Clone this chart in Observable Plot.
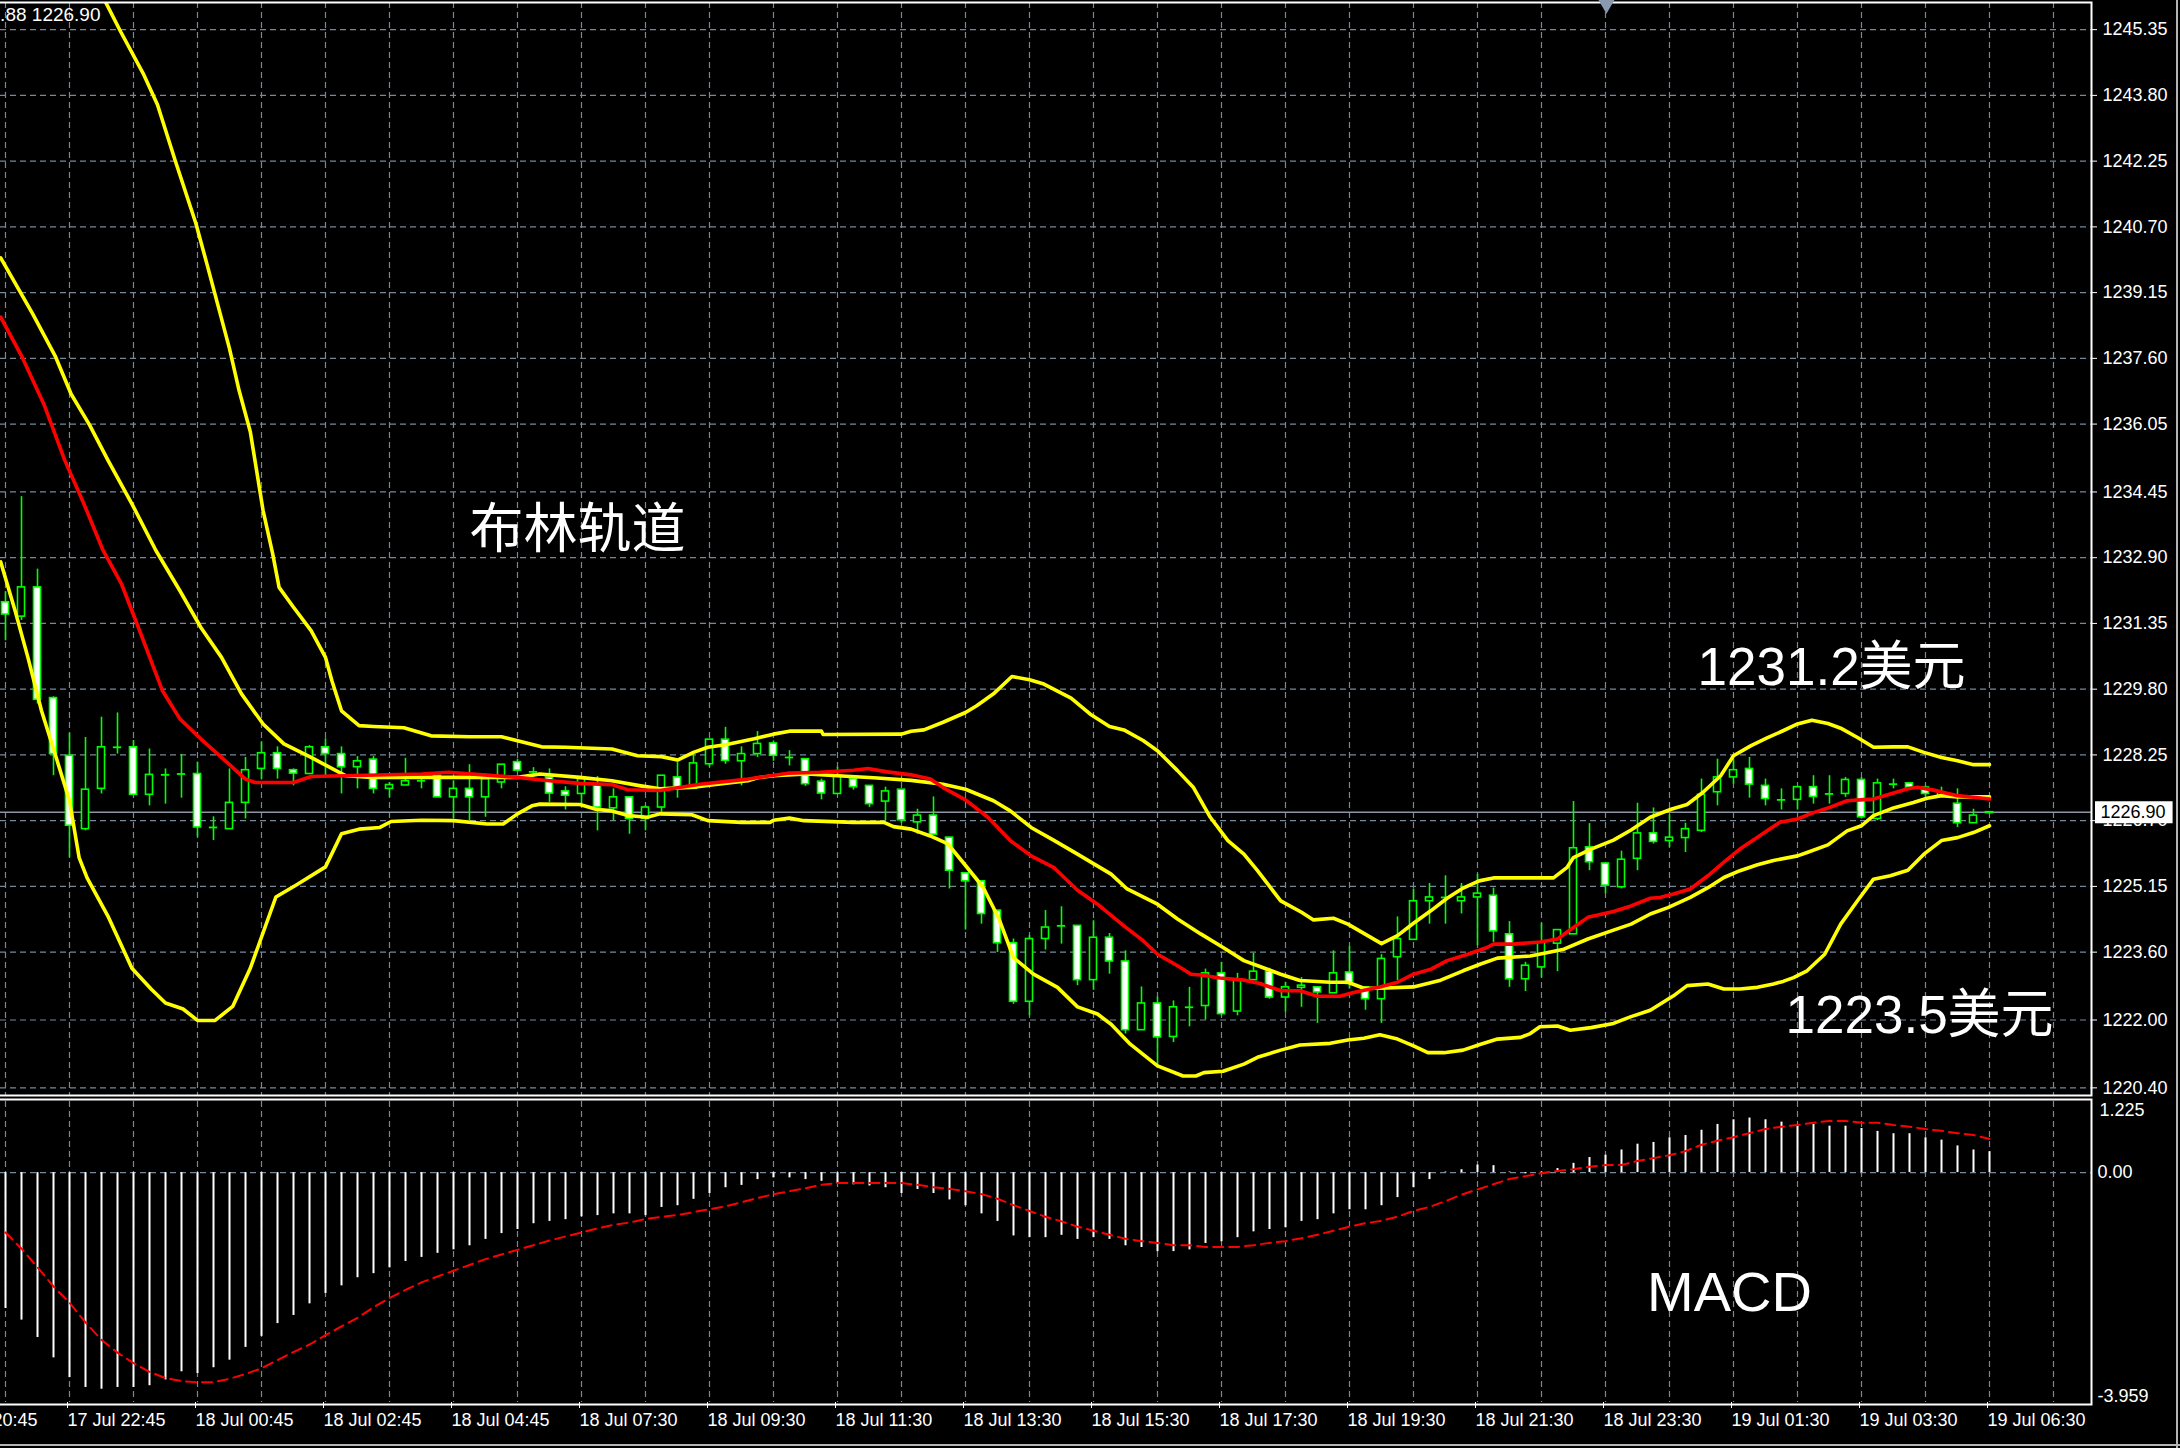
<!DOCTYPE html>
<html>
<head>
<meta charset="utf-8">
<script src="https://cdn.jsdelivr.net/npm/d3@7"></script>
<script src="https://cdn.jsdelivr.net/npm/@observablehq/plot@0.6"></script>
<style>
html,body{margin:0;padding:0;background:#000;overflow:hidden;}
#chart{position:relative;width:2180px;height:1448px;overflow:hidden;background:#000;}
#main{position:absolute;left:0;top:0;}
#macd{position:absolute;left:0;top:1097px;}
.edgeR{position:absolute;left:2176px;top:0;width:2px;height:1448px;background:#b4b4b4;}
.edgeB{position:absolute;left:0;top:1444px;width:2180px;height:2px;background:#b4b4b4;}
</style>
</head>
<body>
<div id="chart"><div id="main"></div><div id="macd"></div><div class="edgeR"></div><div class="edgeB"></div></div>
<script>
// ---------- DATA ----------
const opens = [1231.85,1231.51,1232.20,1229.59,1228.23,1226.50,1227.45,1228.43,1228.43,1227.31,
1227.78,1227.80,1227.80,1226.54,1226.50,1227.12,1227.92,1228.29,1227.89,1227.80,
1228.43,1228.27,1227.96,1228.14,1227.45,1227.53,1227.64,1227.76,1227.25,1227.45,
1227.25,1227.60,1228.08,1227.85,1227.72,1227.39,1227.33,1227.56,1226.99,1227.25,
1226.74,1227.01,1227.72,1227.45,1228.03,1228.61,1228.10,1228.27,1228.52,1228.19,
1228.15,1227.62,1227.33,1227.68,1227.52,1227.15,1227.43,1226.66,1226.82,1226.30,
1225.46,1225.27,1224.58,1223.81,1222.43,1223.91,1224.22,1224.22,1222.94,1223.94,
1223.38,1221.76,1222.39,1221.60,1222.30,1222.33,1223.10,1222.20,1222.94,1223.14,
1222.53,1222.76,1222.77,1222.63,1223.12,1222.77,1222.49,1223.48,1223.89,1224.80,
1224.89,1224.80,1224.89,1224.93,1224.02,1222.96,1223.24,1223.80,1224.02,1226.07,
1225.69,1225.13,1225.80,1226.40,1226.22,1226.29,1226.46,1227.37,1227.72,1227.92,
1227.52,1227.19,1227.19,1227.49,1227.33,1227.33,1227.66,1226.74,1227.56,1227.58,
1227.48,1227.29,1227.10,1226.64,1226.88];
const highs = [1232.10,1234.34,1232.63,1229.62,1228.76,1228.66,1229.14,1229.24,1228.59,1228.39,
1227.92,1228.26,1228.08,1226.79,1227.92,1228.19,1228.56,1228.44,1227.92,1228.47,
1228.63,1228.44,1228.21,1228.21,1227.60,1228.17,1227.76,1227.76,1227.64,1228.02,
1227.80,1228.02,1228.15,1227.95,1227.92,1227.50,1227.72,1227.74,1227.45,1227.25,
1227.05,1227.76,1228.07,1228.27,1228.61,1228.90,1228.44,1228.80,1228.58,1228.35,
1228.15,1227.68,1227.96,1227.76,1227.52,1227.49,1227.43,1226.97,1227.26,1226.30,
1225.46,1225.27,1224.58,1223.91,1223.99,1224.58,1224.67,1224.22,1224.34,1224.04,
1223.63,1222.78,1222.54,1222.45,1222.77,1223.20,1223.36,1223.10,1223.57,1223.22,
1222.89,1223.00,1222.77,1223.63,1223.73,1222.77,1223.54,1224.43,1225.09,1225.22,
1225.40,1225.22,1225.44,1225.11,1224.32,1223.36,1224.28,1224.12,1227.15,1226.63,
1225.69,1225.98,1227.11,1227.00,1226.84,1226.64,1227.68,1228.15,1228.15,1228.19,
1227.68,1227.45,1227.49,1227.76,1227.76,1227.72,1227.72,1227.68,1227.68,1227.60,
1227.52,1227.49,1227.45,1226.97,1226.90];
const lows = [1230.94,1231.42,1229.45,1227.76,1225.83,1226.46,1227.33,1228.27,1227.30,1227.05,
1227.09,1227.23,1226.31,1226.23,1226.50,1226.74,1227.66,1227.68,1227.52,1227.80,
1227.72,1227.33,1227.45,1227.33,1227.25,1227.53,1227.45,1227.25,1226.74,1226.70,
1226.78,1227.45,1227.84,1227.72,1227.13,1226.95,1227.09,1226.46,1226.70,1226.38,
1226.46,1226.89,1227.23,1227.45,1227.96,1228.03,1227.52,1228.19,1228.10,1227.99,
1227.51,1227.19,1227.33,1227.42,1227.01,1226.70,1226.64,1226.38,1226.37,1225.09,
1224.12,1224.26,1223.59,1222.37,1222.10,1223.65,1223.79,1222.81,1222.70,1223.08,
1221.67,1221.76,1220.92,1221.47,1221.84,1222.00,1222.10,1222.10,1222.94,1222.49,
1222.18,1222.30,1221.92,1222.63,1222.73,1222.23,1221.92,1222.93,1223.89,1224.26,
1224.26,1224.50,1223.75,1223.83,1222.77,1222.67,1222.99,1223.14,1224.02,1225.52,
1224.98,1225.09,1225.52,1226.15,1226.07,1225.95,1226.42,1227.05,1227.56,1227.23,
1227.05,1226.95,1226.95,1227.09,1227.09,1227.25,1226.74,1226.70,1227.45,1227.45,
1227.26,1227.26,1226.54,1226.64,1226.88];
const closes = [1231.56,1232.20,1229.55,1228.27,1226.58,1227.43,1228.43,1228.43,1227.31,1227.78,
1227.78,1227.80,1226.54,1226.54,1227.12,1227.89,1228.29,1227.92,1227.81,1228.43,
1228.27,1227.96,1228.10,1227.45,1227.54,1227.63,1227.64,1227.25,1227.45,1227.25,
1227.68,1228.02,1227.88,1227.85,1227.34,1227.29,1227.68,1227.01,1227.25,1226.74,
1227.01,1227.76,1227.49,1228.05,1228.61,1228.11,1228.27,1228.51,1228.23,1228.19,
1227.56,1227.34,1227.76,1227.49,1227.09,1227.39,1226.71,1226.82,1226.37,1225.52,
1225.27,1224.50,1223.81,1222.43,1223.91,1224.18,1224.22,1222.94,1223.94,1223.38,
1221.76,1222.39,1221.59,1222.30,1222.30,1223.10,1222.14,1222.94,1223.14,1222.53,
1222.77,1222.81,1222.65,1223.10,1222.85,1222.49,1223.44,1223.91,1224.80,1224.89,
1224.89,1224.89,1224.98,1224.09,1222.96,1223.28,1223.83,1224.12,1226.05,1225.72,
1225.17,1225.78,1226.40,1226.20,1226.30,1226.50,1227.31,1227.72,1227.89,1227.55,
1227.21,1227.19,1227.49,1227.26,1227.33,1227.66,1226.78,1227.58,1227.56,1227.48,
1227.33,1227.37,1226.64,1226.82,1226.90];

// Bollinger bands and the red average: [bar index, price]
const upperBand = [[-0.3,1251.0],[6.2,1246.04],[7.2,1245.30],[8.6,1244.32],[9.5,1243.58],[10.6,1242.27],[11.9,1240.78],[12.6,1239.81],[13.3,1238.82],[14.0,1237.83],[14.6,1236.84],[15.3,1235.87],[16.1,1234.01],[16.7,1232.99],[17.1,1232.20],[18.0,1231.73],[19.1,1231.18],[20.0,1230.55],[20.4,1230.00],[21.0,1229.29],[22.1,1228.94],[23.0,1228.92],[24.9,1228.89],[26.6,1228.70],[29.0,1228.68],[31.0,1228.68],[33.5,1228.44],[35.0,1228.43],[37.9,1228.39],[39.5,1228.23],[41.0,1228.21],[42.0,1228.13],[43.0,1228.31],[43.9,1228.43],[45.0,1228.49],[46.8,1228.63],[48.0,1228.74],[49.0,1228.81],[51.0,1228.81],[51.1,1228.73],[56.0,1228.74],[56.6,1228.81],[57.4,1228.84],[58.6,1229.02],[60.0,1229.25],[60.7,1229.41],[61.75,1229.69],[62.9,1230.10],[64.0,1230.02],[64.9,1229.92],[66.6,1229.59],[67.8,1229.21],[69.0,1228.92],[69.9,1228.84],[71.1,1228.59],[72.0,1228.35],[73.25,1227.88],[74.25,1227.48],[75.3,1226.78],[76.4,1226.23],[77.4,1225.91],[78.25,1225.52],[79.7,1224.81],[81.0,1224.54],[81.75,1224.36],[83.0,1224.40],[83.9,1224.26],[86.0,1223.80],[87.0,1223.99],[88.0,1224.28],[89.1,1224.58],[90.1,1224.87],[91.1,1225.11],[92.1,1225.28],[93.0,1225.35],[96.75,1225.35],[97.6,1225.60],[98.0,1225.83],[99.1,1226.03],[100.5,1226.24],[101.6,1226.48],[102.8,1226.78],[104.1,1226.97],[105.1,1227.08],[106.1,1227.37],[107.2,1227.76],[108.0,1228.23],[109.1,1228.47],[110.1,1228.65],[111.1,1228.82],[112.0,1228.98],[112.9,1229.07],[113.9,1228.99],[114.7,1228.88],[115.75,1228.66],[116.75,1228.43],[118.0,1228.44],[118.9,1228.44],[119.9,1228.31],[121.0,1228.19],[122.0,1228.11],[123.0,1228.02],[124.0,1228.02]];
const middleBand = [[-0.3,1239.97],[1.7,1238.65],[3.1,1237.66],[4.1,1236.76],[5.25,1236.03],[6.4,1235.2],[7.9,1234.17],[9.4,1233.07],[10.9,1232.12],[12.2,1231.26],[13.5,1230.55],[14.75,1229.69],[16.1,1228.98],[17.4,1228.51],[19.1,1228.19],[21.25,1227.76],[22.9,1227.72],[25.6,1227.72],[32.0,1227.72],[33.4,1227.80],[35.9,1227.72],[37.9,1227.64],[39.7,1227.52],[40.9,1227.45],[43.0,1227.49],[44.25,1227.55],[46.4,1227.64],[47.0,1227.71],[48.0,1227.76],[50.1,1227.80],[52.0,1227.76],[54.25,1227.71],[56.6,1227.65],[58.6,1227.56],[60.0,1227.44],[61.75,1227.17],[62.8,1226.93],[64.1,1226.54],[65.5,1226.24],[67.0,1225.91],[69.1,1225.44],[70.1,1225.09],[72.0,1224.73],[73.25,1224.38],[74.7,1224.03],[76.1,1223.71],[77.4,1223.40],[78.4,1223.26],[79.7,1223.08],[80.9,1222.93],[82.8,1222.89],[83.9,1222.89],[84.9,1222.75],[85.9,1222.75],[88.0,1222.78],[89.7,1222.94],[91.1,1223.16],[92.2,1223.32],[93.25,1223.46],[95.3,1223.51],[96.4,1223.59],[97.4,1223.67],[98.9,1223.91],[100.5,1224.12],[101.6,1224.26],[102.8,1224.50],[103.9,1224.65],[105.3,1224.89],[106.4,1225.12],[107.4,1225.36],[108.4,1225.52],[109.5,1225.66],[110.5,1225.76],[112.0,1225.87],[112.6,1225.95],[113.9,1226.13],[115.1,1226.46],[116.0,1226.58],[116.75,1226.82],[118.0,1227.00],[119.25,1227.13],[120.1,1227.23],[121.0,1227.29],[122.0,1227.26],[124.0,1227.26]];
const lowerBand = [[-0.3,1232.8],[0.6,1231.65],[1.4,1230.55],[2.25,1229.29],[3.1,1228.27],[4.0,1227.17],[4.6,1225.83],[5.1,1225.35],[6.4,1224.45],[7.9,1223.22],[9.1,1222.73],[10.0,1222.40],[11.1,1222.26],[12.0,1221.99],[13.1,1221.99],[14.2,1222.32],[15.3,1223.22],[16.9,1224.90],[18.2,1225.19],[20.0,1225.61],[21.0,1226.39],[22.1,1226.50],[23.4,1226.54],[24.1,1226.68],[26.0,1226.71],[28.0,1226.70],[30.1,1226.62],[31.1,1226.62],[32.0,1226.86],[32.9,1227.05],[33.4,1227.09],[35.9,1227.08],[36.9,1226.97],[37.9,1226.93],[38.9,1226.82],[40.1,1226.78],[40.9,1226.86],[42.9,1226.84],[43.9,1226.70],[46.0,1226.66],[47.8,1226.66],[48.0,1226.71],[49.0,1226.76],[49.9,1226.70],[53.0,1226.66],[54.9,1226.66],[55.5,1226.56],[56.6,1226.50],[57.8,1226.34],[58.9,1226.15],[59.9,1225.69],[61.1,1225.13],[62.1,1224.38],[63.0,1223.47],[64.25,1223.08],[65.75,1222.77],[67.0,1222.31],[68.25,1222.14],[69.1,1221.90],[70.3,1221.43],[72.0,1220.92],[73.6,1220.68],[74.4,1220.68],[74.9,1220.76],[76.1,1220.79],[77.4,1220.96],[78.25,1221.12],[79.7,1221.29],[80.9,1221.41],[82.8,1221.45],[83.9,1221.53],[84.9,1221.57],[85.9,1221.65],[87.0,1221.55],[88.0,1221.39],[88.9,1221.23],[89.9,1221.23],[91.1,1221.29],[92.2,1221.43],[93.25,1221.55],[94.7,1221.59],[95.3,1221.68],[95.9,1221.84],[97.0,1221.86],[97.8,1221.76],[99.1,1221.82],[100.5,1221.92],[101.6,1222.08],[102.8,1222.23],[103.4,1222.37],[104.25,1222.57],[105.1,1222.81],[106.4,1222.85],[107.4,1222.73],[108.4,1222.73],[109.5,1222.77],[110.5,1222.85],[111.1,1222.91],[111.75,1223.00],[112.6,1223.16],[113.7,1223.55],[114.7,1224.26],[115.75,1224.81],[116.75,1225.32],[117.8,1225.40],[118.9,1225.53],[119.9,1225.91],[121.0,1226.23],[122.0,1226.30],[123.0,1226.42],[124.0,1226.58]];
const redLine = [[-0.3,1238.57],[1.0,1237.66],[2.4,1236.52],[3.7,1235.2],[4.9,1234.17],[6.1,1233.07],[7.25,1232.28],[8.3,1231.26],[9.8,1229.77],[10.9,1229.10],[12.2,1228.63],[13.5,1228.19],[15.0,1227.68],[15.6,1227.60],[18.0,1227.60],[19.1,1227.74],[26.0,1227.80],[27.7,1227.84],[32.0,1227.72],[33.5,1227.66],[35.9,1227.58],[37.9,1227.55],[38.9,1227.43],[40.9,1227.41],[43.4,1227.56],[46.4,1227.68],[48.9,1227.82],[50.9,1227.84],[53.0,1227.89],[53.9,1227.93],[55.1,1227.85],[56.6,1227.78],[57.8,1227.68],[58.6,1227.48],[60.0,1227.19],[61.4,1226.78],[62.8,1226.23],[64.1,1225.87],[65.5,1225.60],[67.0,1225.06],[68.25,1224.73],[69.9,1224.22],[71.1,1223.87],[72.0,1223.55],[73.25,1223.28],[74.1,1223.08],[74.7,1223.06],[75.9,1222.99],[77.4,1222.94],[78.4,1222.86],[79.7,1222.69],[80.9,1222.69],[82.0,1222.56],[83.4,1222.56],[84.25,1222.65],[85.9,1222.78],[87.0,1222.89],[88.0,1223.08],[89.1,1223.20],[90.1,1223.40],[91.4,1223.55],[92.6,1223.71],[93.0,1223.79],[94.25,1223.79],[95.9,1223.84],[97.0,1223.91],[98.0,1224.18],[98.9,1224.42],[100.5,1224.56],[101.6,1224.69],[102.8,1224.87],[103.4,1224.89],[104.25,1224.97],[105.3,1225.09],[106.4,1225.40],[107.4,1225.72],[108.4,1226.03],[109.5,1226.31],[110.1,1226.46],[110.9,1226.66],[112.0,1226.74],[113.0,1226.89],[114.0,1227.01],[115.1,1227.17],[115.9,1227.19],[116.75,1227.21],[117.8,1227.33],[118.9,1227.45],[119.5,1227.49],[120.5,1227.42],[122.0,1227.29],[123.0,1227.25],[124.0,1227.21]];

// MACD histogram and signal, one value per bar
const macdHist = [-2.34,-2.54,-2.84,-3.19,-3.53,-3.70,-3.73,-3.70,-3.70,-3.67,
-3.57,-3.43,-3.46,-3.36,-3.23,-3.01,-2.82,-2.60,-2.46,-2.26,
-2.08,-1.95,-1.81,-1.74,-1.64,-1.53,-1.46,-1.39,-1.33,-1.26,
-1.15,-1.05,-0.98,-0.88,-0.84,-0.81,-0.76,-0.74,-0.71,-0.71,
-0.74,-0.60,-0.57,-0.46,-0.36,-0.26,-0.22,-0.12,-0.09,-0.09,
-0.12,-0.15,-0.19,-0.21,-0.23,-0.26,-0.36,-0.29,-0.36,-0.47,
-0.57,-0.71,-0.84,-1.09,-1.12,-1.12,-1.08,-1.15,-1.12,-1.15,
-1.26,-1.29,-1.36,-1.36,-1.33,-1.22,-1.19,-1.12,-1.02,-0.98,
-0.95,-0.84,-0.81,-0.71,-0.64,-0.64,-0.57,-0.43,-0.26,-0.12,
0.01,0.05,0.13,0.12,0.01,-0.02,0.01,0.07,0.16,0.26,
0.30,0.39,0.49,0.52,0.60,0.64,0.73,0.83,0.91,0.94,
0.91,0.87,0.82,0.83,0.80,0.80,0.76,0.71,0.67,0.67,
0.60,0.56,0.46,0.39,0.36];
const macdSignal = [-1.03,-1.31,-1.63,-1.96,-2.24,-2.58,-2.88,-3.10,-3.28,-3.43,
-3.54,-3.59,-3.61,-3.61,-3.55,-3.47,-3.37,-3.23,-3.09,-2.96,
-2.80,-2.65,-2.50,-2.32,-2.16,-2.02,-1.89,-1.79,-1.69,-1.59,
-1.49,-1.41,-1.33,-1.25,-1.17,-1.10,-1.03,-0.96,-0.90,-0.86,
-0.80,-0.76,-0.73,-0.68,-0.63,-0.58,-0.51,-0.44,-0.37,-0.32,
-0.27,-0.21,-0.18,-0.18,-0.18,-0.18,-0.18,-0.21,-0.25,-0.28,
-0.32,-0.37,-0.45,-0.56,-0.66,-0.76,-0.84,-0.93,-1.00,-1.07,
-1.14,-1.18,-1.21,-1.25,-1.25,-1.28,-1.28,-1.28,-1.25,-1.21,
-1.18,-1.13,-1.07,-1.00,-0.93,-0.87,-0.83,-0.76,-0.66,-0.59,
-0.49,-0.38,-0.29,-0.20,-0.11,-0.06,-0.01,0.03,0.06,0.10,
0.13,0.13,0.20,0.25,0.30,0.37,0.48,0.55,0.61,0.68,
0.75,0.79,0.82,0.86,0.89,0.89,0.86,0.86,0.82,0.79,
0.75,0.72,0.68,0.65,0.58];

// axes / labels
const priceTicks = [1245.35,1243.80,1242.25,1240.70,1239.15,1237.60,1236.05,1234.45,1232.90,1231.35,1229.80,1228.25,1226.70,1225.15,1223.60,1222.00,1220.40];
const macdTicks = [1.225, 0, -3.959];
const macdTickText = ["1.225", "0.00", "-3.959"];
const timeIdx = [-4,4,12,20,28,36,44,52,60,68,76,84,92,100,108,116,124];
const timeText = ["17 Jul 20:45","17 Jul 22:45","18 Jul 00:45","18 Jul 02:45","18 Jul 04:45","18 Jul 07:30","18 Jul 09:30","18 Jul 11:30","18 Jul 13:30","18 Jul 15:30","18 Jul 17:30","18 Jul 19:30","18 Jul 21:30","18 Jul 23:30","19 Jul 01:30","19 Jul 03:30","19 Jul 06:30"];
const gridIdx = [0,4,8,12,16,20,24,28,32,36,40,44,48,52,56,60,64,68,72,76,80,84,88,92,96,100,104,108,112,116,120,124,128];
const headerText = ["1226.88 1226.90 1226.88 1226.90"];
const shiftMarker = [100.06];

// annotations
const noteText = ["布林轨道", "1231.2美元", "1223.5美元"];
const noteIdx = [29, 105.75, 111.25];
const notePrice = [1233.54, 1230.31, 1222.10];
const macdNoteText = ["MACD"];
const macdNoteIdx = [102.6];
const macdNoteVal = [-2.08];

// ---------- BUILD ----------
const GREEN = "#00ff00", YELLOW = "#ffff00", RED = "#ff0000", GRID = "#778899", DASH = "6,4";
const FONT = "'Liberation Sans', Arial, 'Noto Sans CJK SC', sans-serif";
const X_MIN = -5 / 16, X_MAX = (2091 - 5) / 16;

const candles = opens.map((o, i) => ({i, open: o, high: highs[i], low: lows[i], close: closes[i]}));
const bull = candles.filter(d => d.close > d.open);
const bear = candles.filter(d => d.close < d.open);
const flat = candles.filter(d => Math.abs(d.close - d.open) < 0.03);
const pts = arr => arr.map(([i, v]) => ({i, v}));
const lastClose = closes[closes.length - 1];
const notes = noteText.map((t, k) => ({t, i: noteIdx[k], p: notePrice[k]}));
const histData = macdHist.map((v, i) => ({i, v}));
const sigData = macdSignal.map((v, i) => ({i, v}));
const timeMap = new Map(timeIdx.map((d, k) => [d, timeText[k]]));
const macdLabels = macdTicks.map((v, k) => ({v, t: macdTickText[k]}));

const mainPlot = Plot.plot({
  width: 2180, height: 1097,
  marginLeft: 0, marginRight: 89, marginTop: 2, marginBottom: 2,
  style: {background: "#000", color: "#fff", fontFamily: FONT},
  x: {domain: [X_MIN, X_MAX], axis: null},
  y: {domain: [1220.22, 1245.99]},
  marks: [
    Plot.ruleY(priceTicks, {stroke: GRID, strokeDasharray: DASH, strokeWidth: 1.2}),
    Plot.ruleX(gridIdx, {stroke: GRID, strokeDasharray: DASH, strokeWidth: 1.2}),
    Plot.ruleY([lastClose], {stroke: "#8c97a6", strokeWidth: 1.5}),
    Plot.ruleX(candles, {x: "i", y1: "low", y2: "high", stroke: GREEN, strokeWidth: 1.6}),
    Plot.ruleY(flat, {x1: d => d.i - 0.26, x2: d => d.i + 0.26, y: "close", stroke: GREEN, strokeWidth: 1.8}),
    Plot.rect(bull, {x1: d => d.i - 0.22, x2: d => d.i + 0.22, y1: "open", y2: "close", fill: "#000", stroke: GREEN, strokeWidth: 1.6}),
    Plot.rect(bear, {x1: d => d.i - 0.22, x2: d => d.i + 0.22, y1: "open", y2: "close", fill: "#fff", stroke: GREEN, strokeWidth: 1.6}),
    Plot.line(pts(upperBand), {x: "i", y: "v", stroke: YELLOW, strokeWidth: 3.6, clip: true}),
    Plot.line(pts(middleBand), {x: "i", y: "v", stroke: YELLOW, strokeWidth: 3.6, clip: true}),
    Plot.line(pts(lowerBand), {x: "i", y: "v", stroke: YELLOW, strokeWidth: 3.6, clip: true}),
    Plot.line(pts(redLine), {x: "i", y: "v", stroke: RED, strokeWidth: 3.6, clip: true}),
    Plot.text(notes.slice(0, 1), {x: "i", y: "p", text: "t", textAnchor: "start", fontSize: 54, fill: "#fff", fontFamily: "'Noto Sans CJK SC', sans-serif"}),
    Plot.text(notes.slice(1), {x: "i", y: "p", text: "t", textAnchor: "start", fontSize: 53, fill: "#fff", fontFamily: FONT}),
    Plot.frame({stroke: "#fff", strokeWidth: 2, insetLeft: -4}),
    Plot.axisY(priceTicks, {anchor: "right", tickSize: 5, tickPadding: 6, tickFormat: d => d.toFixed(2), fontSize: 18, label: null, stroke: "#fff", fill: "#fff"}),
    Plot.ruleY([lastClose], {x1: X_MAX + 0.25, x2: X_MAX + 5.1, stroke: "#fff", strokeWidth: 22}),
    Plot.text([lastClose], {y: d => d, text: d => d.toFixed(2), frameAnchor: "right", dx: 9, textAnchor: "start", fill: "#000", fontSize: 18}),
    Plot.text(headerText, {text: d => d, frameAnchor: "top-left", dx: 100, dy: 5, lineAnchor: "top", textAnchor: "end", fontSize: 19, fill: "#fff"}),
    Plot.dot(shiftMarker, {x: d => d, frameAnchor: "top", dy: 2, symbol: "triangle", rotate: 180, r: 6, fill: "#8a9bb0"})
  ]
});
document.getElementById("main").appendChild(mainPlot);

const macdPlot = Plot.plot({
  width: 2180, height: 351,
  marginLeft: 0, marginRight: 89, marginTop: 4, marginBottom: 46,
  style: {background: "#000", color: "#fff", fontFamily: FONT},
  x: {domain: [X_MIN, X_MAX]},
  y: {domain: [-3.959, 1.225], axis: null},
  marks: [
    Plot.ruleY([0], {stroke: GRID, strokeDasharray: DASH, strokeWidth: 1.2}),
    Plot.ruleX(gridIdx, {stroke: GRID, strokeDasharray: DASH, strokeWidth: 1.2}),
    Plot.ruleX(histData, {x: "i", y1: 0, y2: "v", stroke: "#fff", strokeWidth: 2}),
    Plot.line(sigData, {x: "i", y: "v", stroke: RED, strokeWidth: 2, strokeDasharray: "10,6"}),
    Plot.text(macdNoteText, {x: () => macdNoteIdx[0], y: () => macdNoteVal[0], text: d => d, textAnchor: "start", fontSize: 56, fill: "#fff"}),
    Plot.frame({stroke: "#fff", strokeWidth: 2, insetLeft: -4, insetTop: -2, insetBottom: -2}),
    Plot.axisX(timeIdx, {anchor: "bottom", tickSize: 6, tickPadding: 5, tickFormat: d => timeMap.get(d), textAnchor: "start", dx: -2, fontSize: 18, label: null, stroke: "#fff", fill: "#fff"}),
    Plot.text(macdLabels.filter(d => d.v > 0), {y: "v", text: "t", frameAnchor: "right", dx: 8, dy: 2, textAnchor: "start", lineAnchor: "top", fontSize: 18, fill: "#fff"}),
    Plot.text(macdLabels.filter(d => d.v === 0), {y: "v", text: "t", frameAnchor: "right", dx: 6, textAnchor: "start", lineAnchor: "middle", fontSize: 18, fill: "#fff"}),
    Plot.text(macdLabels.filter(d => d.v < 0), {y: "v", text: "t", frameAnchor: "right", dx: 6, dy: -1, textAnchor: "start", lineAnchor: "bottom", fontSize: 18, fill: "#fff"})
  ]
});
document.getElementById("macd").appendChild(macdPlot);
</script>
</body>
</html>
